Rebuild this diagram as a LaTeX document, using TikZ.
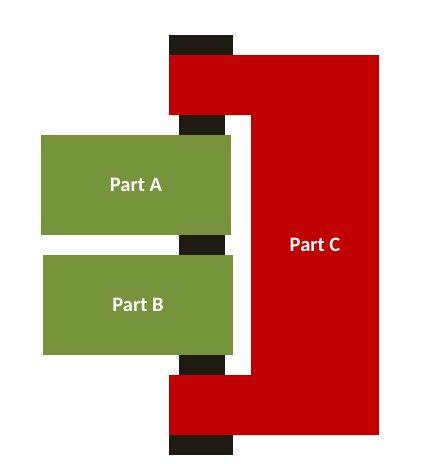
\documentclass[tikz,border=0pt]{standalone}
\usepackage{fontspec}
\setmainfont{Carlito}
\definecolor{dk}{HTML}{1E1C12}
\definecolor{rd}{HTML}{C00000}
\definecolor{gr}{HTML}{77933C}
\begin{document}
\begin{tikzpicture}[x=1pt,y=-1pt,
  darkblk/.style={fill=dk,draw=none},
  greenbox/.style={fill=gr,draw=none},
  redshape/.style={fill=rd,draw=none},
  lbl/.style={text=white,font=\fontsize{20.5}{24}\selectfont\bfseries}]
\useasboundingbox (0,0) rectangle (428,464);
% dark column
\fill[darkblk] (178.5,55) rectangle (224.5,435);
\fill[darkblk] (169,35) rectangle (233,55);
\fill[darkblk] (169,435) rectangle (233,455);
% Part C
\fill[redshape] (169,55) -- (379,55) -- (379,435) -- (169,435) -- (169,375)
  -- (251,375) -- (251,115) -- (169,115) -- cycle;
\node[lbl] (c) at (315,245) {Part C};
% Part A, Part B
\fill[greenbox] (41,135) rectangle (231,235);
\node[lbl] (a) at (136,185) {Part A};
\fill[greenbox] (43,255) rectangle (233,355);
\node[lbl] (b) at (138,305) {Part B};
\end{tikzpicture}
\end{document}
